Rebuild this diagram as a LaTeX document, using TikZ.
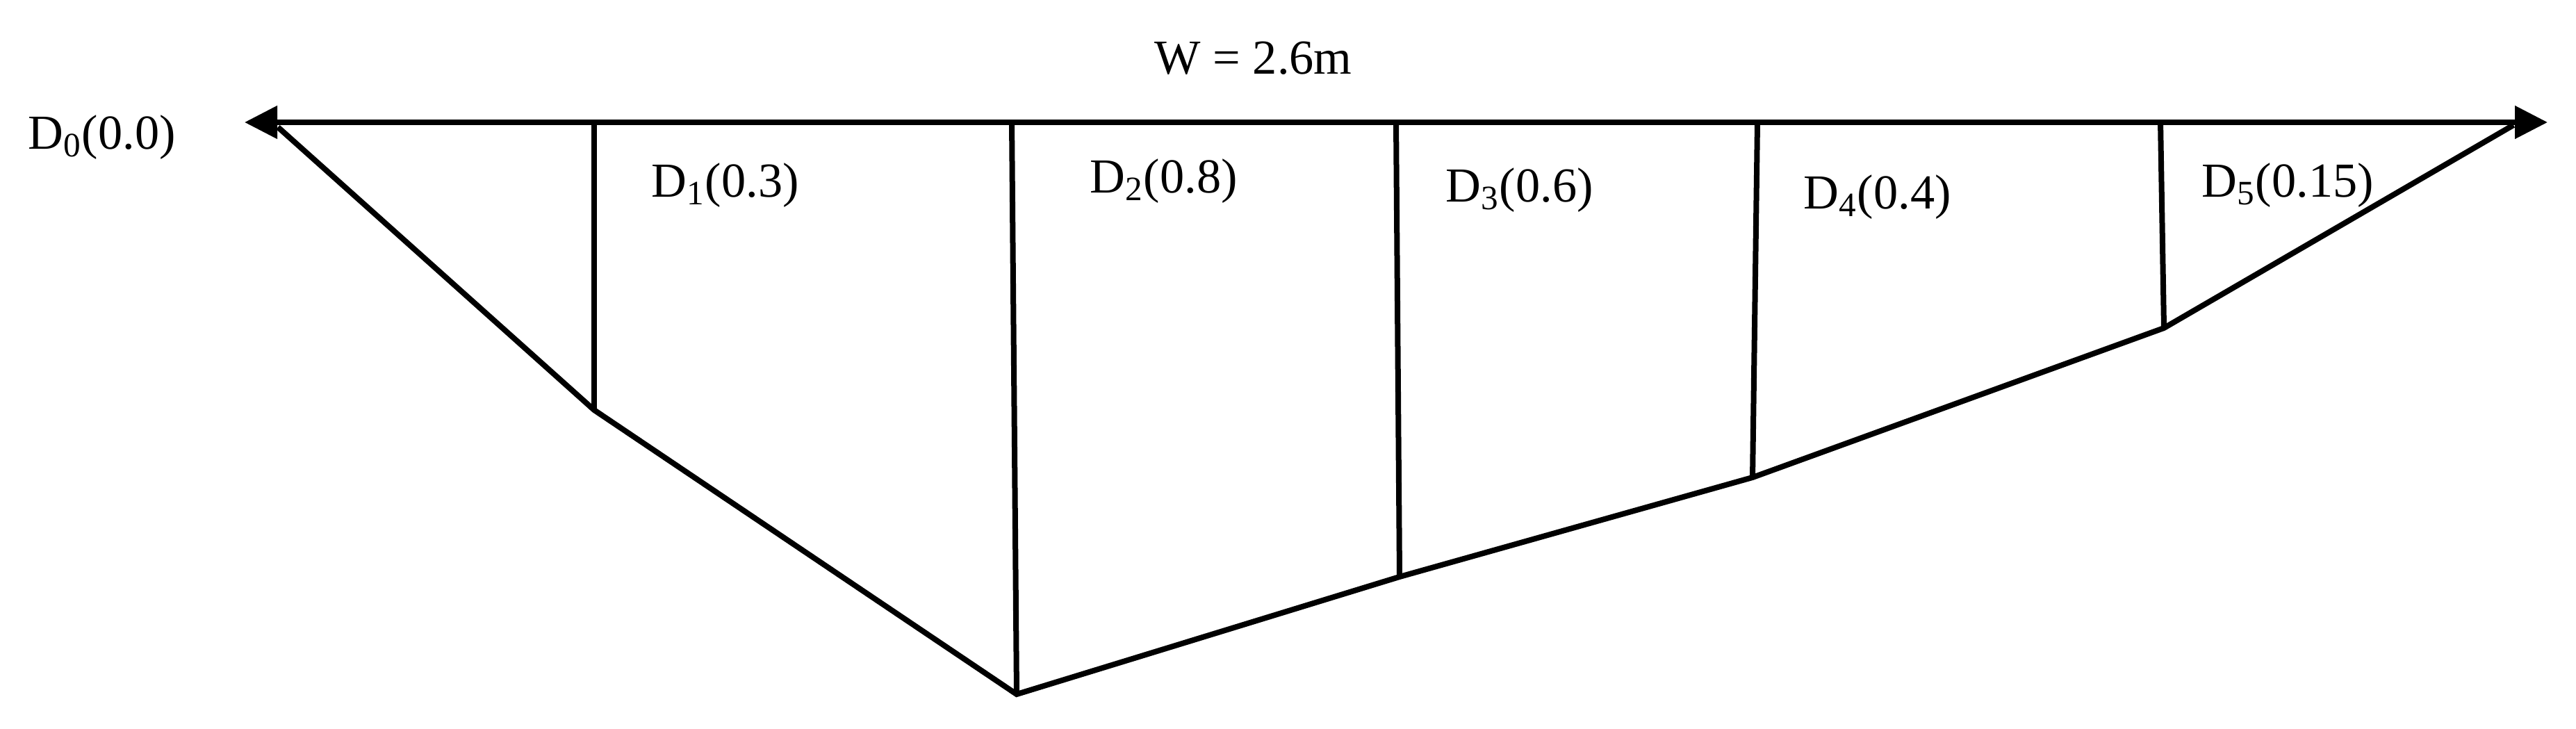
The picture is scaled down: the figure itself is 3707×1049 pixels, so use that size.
\documentclass[tikz,border=0pt]{standalone}
\usepackage{fontspec}
\setmainfont{Liberation Serif}
\usetikzlibrary{arrows.meta}

\tikzset{
  depthlabel/.style={anchor=base west, inner sep=0pt, font=\fontsize{20pt}{24pt}\selectfont},
  bedline/.style={line width=0.08cm},
}

\begin{document}
\begin{tikzpicture}[x=0.01cm, y=-0.01cm]
\useasboundingbox (0,0) rectangle (3707,1049);

% water surface and bed points
\coordinate (left) at (352,176);
\coordinate (right) at (3666,176);
\coordinate (bankL) at (400,183);
\coordinate (bankR) at (3617,180);
\coordinate (t1) at (855,176);
\coordinate (b1) at (855,590);
\coordinate (t2) at (1456,176);
\coordinate (b2) at (1463,999);
\coordinate (t3) at (2009,176);
\coordinate (b3) at (2014,830);
\coordinate (t4) at (2529,176);
\coordinate (b4) at (2522,687);
\coordinate (t5) at (3109,176);
\coordinate (b5) at (3114,472);

\draw[bedline, {Triangle[length=0.47cm,width=0.46cm]}-{Triangle[length=0.47cm,width=0.46cm]}] (left) -- (right);
\draw[bedline] (bankL) -- (b1) -- (b2) -- (b3) -- (b4) -- (b5) -- (bankR);
\draw[bedline] (t1) -- (b1);
\draw[bedline] (t2) -- (b2);
\draw[bedline] (t3) -- (b3);
\draw[bedline] (t4) -- (b4);
\draw[bedline] (t5) -- (b5);

\node[depthlabel] (width) at (1661,107) {W = 2.6m};
\node[depthlabel] (d0) at (40,215) {D\textsubscript{0}(0.0)};
\node[depthlabel] (d1) at (937,284) {D\textsubscript{1}(0.3)};
\node[depthlabel] (d2) at (1568,278) {D\textsubscript{2}(0.8)};
\node[depthlabel] (d3) at (2080,291) {D\textsubscript{3}(0.6)};
\node[depthlabel] (d4) at (2595,301) {D\textsubscript{4}(0.4)};
\node[depthlabel] (d5) at (3168,284) {D\textsubscript{5}(0.15)};
\end{tikzpicture}
\end{document}
